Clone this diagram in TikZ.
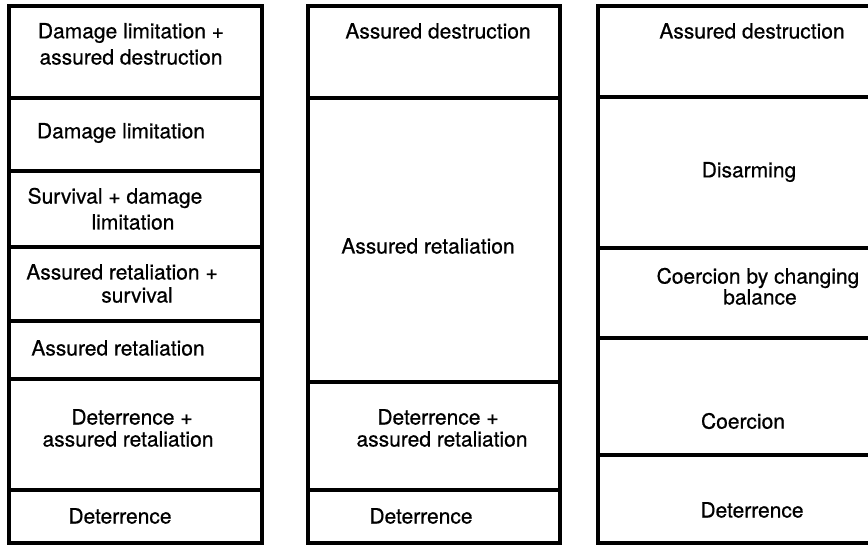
\documentclass[tikz,border=0pt]{standalone}
\usepackage{fontspec}
\setmainfont{TeX Gyre Heros}[FakeBold=0.6]
\begin{document}
\begin{tikzpicture}[x=1pt,y=-1pt,
  frame/.style={line width=3.2pt,line join=miter},
  lbl/.style={inner sep=0pt,font=\fontsize{21}{23}\selectfont,anchor=center}]
\useasboundingbox (0,0) rectangle (868,546);

% left column
\draw[frame] (9,6) rectangle (262,543);
\foreach \yy in {98,171,247,321,379,490} \draw[frame] (9,\yy) -- (262,\yy);
% middle column
\draw[frame] (308,6) rectangle (560,543);
\foreach \yy in {98,382,490} \draw[frame] (308,\yy) -- (560,\yy);
% right column, open at the right edge
\draw[frame] (868,6) -- (598,6) -- (598,543) -- (868,543);
\foreach \yy in {97,248,338,455} \draw[frame] (598,\yy) -- (868,\yy);

% left column labels
\node[lbl] (la1) at (131,33) {Damage limitation +};
\node[lbl] (la2) at (131,57) {assured destruction};
\node[lbl] (lb) at (121,133) {Damage limitation};
\node[lbl] (lc1) at (115,198) {Survival + damage};
\node[lbl] (lc2) at (133,222) {limitation};
\node[lbl] (ld1) at (122,272) {Assured retaliation +};
\node[lbl] (ld2) at (137,295) {survival};
\node[lbl] (le) at (118,348) {Assured retaliation};
\node[lbl] (lf1) at (132,417) {Deterrence +};
\node[lbl] (lf2) at (128,439) {assured retaliation};
\node[lbl] (lg) at (120,516) {Deterrence};

% middle column labels
\node[lbl] (ma) at (438,31) {Assured destruction};
\node[lbl] (mb) at (428,246) {Assured retaliation};
\node[lbl] (mc1) at (438,417) {Deterrence +};
\node[lbl] (mc2) at (442,439) {assured retaliation};
\node[lbl] (md) at (421,516) {Deterrence};

% right column labels
\node[lbl] (ra) at (752,31) {Assured destruction};
\node[lbl] (rb) at (749,172) {Disarming};
\node[lbl] (rc1) at (758,278) {Coercion by changing};
\node[lbl] (rc2) at (760,297) {balance};
\node[lbl] (rd) at (743,421) {Coercion};
\node[lbl] (re) at (752,510) {Deterrence};
\end{tikzpicture}
\end{document}
